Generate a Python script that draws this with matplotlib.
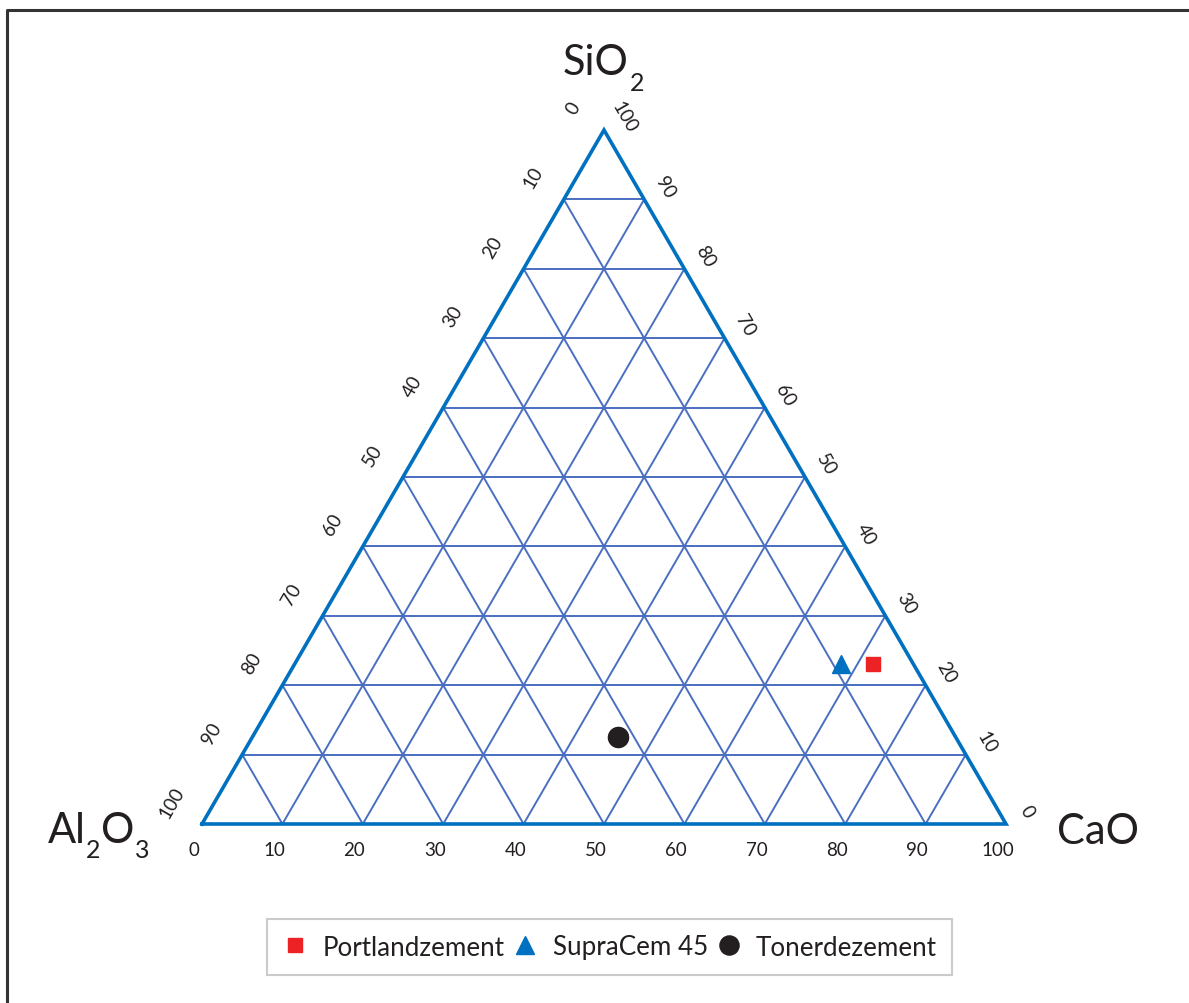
import matplotlib.pyplot as plt
from matplotlib.lines import Line2D
import numpy as np

plt.rcParams['font.family'] = ['Lato', 'DejaVu Sans']

# composition of the cements, in percent
samples = ["Portlandzement", "SupraCem 45", "Tonerdezement"]
sio2 = [23.0, 23.0, 12.5]
cao = [72.0, 68.0, 45.5]
al2o3 = [5.0, 9.0, 42.0]
ticks = [0, 10, 20, 30, 40, 50, 60, 70, 80, 90, 100]

markers = ["s", "^", "o"]
colors = ["#ED2224", "#0070C0", "#231F20"]
sizes = [10.5, 13.5, 14.5]

H = np.sqrt(3) / 2
INK = "#231F20"


def to_xy(s, c, a):
    """Ternary percentages -> cartesian, CaO to the right, SiO2 on top."""
    total = np.asarray(s) + np.asarray(c) + np.asarray(a)
    s = np.asarray(s) / total
    c = np.asarray(c) / total
    return c + s / 2, s * H


def formula(ax, parts, xy, offset, ha="left", size=30, drop=11):
    """Write a chemical formula piece by piece, digits as dropped subscripts."""
    renderer = fig.canvas.get_renderer()
    pieces, x = [], 0.0
    for p in parts:
        sub = p.isdigit()
        t = ax.annotate(p, xy, xytext=(offset[0] + x, offset[1] - (drop if sub else 0)),
                        textcoords="offset points", fontsize=size * 0.6 if sub else size,
                        color=INK, va="baseline", ha="left", annotation_clip=False)
        x += t.get_window_extent(renderer).width * 72 / fig.dpi + 0.5
        pieces.append(t)
    shift = {"left": 0, "center": -x / 2, "right": -x}[ha]
    for t in pieces:
        px, py = t.xyann
        t.xyann = (px + shift, py)
    return pieces


fig = plt.figure(figsize=(11.89, 10.04), dpi=100)
ax = fig.add_axes([202 / 1189, 1 - 825 / 1004, 804 / 1189, 694 / 1004])
ax.set_xlim(0, 1)
ax.set_ylim(0, H)
ax.axis("off")

# frame around the drawing
frame = fig.add_axes([0, 0, 1, 1], zorder=-1)
frame.set_xlim(0, 1)
frame.set_ylim(0, 1)
frame.axis("off")
frame.plot([7 / 1189, 7 / 1189, 1], [0, 1 - 11 / 1004, 1 - 11 / 1004], color="#333333", lw=2.2)

# grid lines every 10 %
grid_kw = dict(color="#4A6FC0", lw=1.4, zorder=1, solid_capstyle="butt")
for t in ticks[1:-1]:
    # constant SiO2
    x0, y0 = to_xy(t, 0, 100 - t)
    x1, y1 = to_xy(t, 100 - t, 0)
    ax.plot([x0, x1], [y0, y1], **grid_kw)
    # constant CaO
    x0, y0 = to_xy(0, t, 100 - t)
    x1, y1 = to_xy(100 - t, t, 0)
    ax.plot([x0, x1], [y0, y1], **grid_kw)
    # constant Al2O3
    x0, y0 = to_xy(0, 100 - t, t)
    x1, y1 = to_xy(100 - t, 0, t)
    ax.plot([x0, x1], [y0, y1], **grid_kw)

# outer triangle
ax.plot([0, 1, 0.5, 0], [0, 0, H, 0], color="#0070C0", lw=2.6, zorder=2,
        solid_joinstyle="miter", clip_on=False)

# tick labels
tick_kw = dict(fontsize=13.5, color=INK, textcoords="offset points",
               ha="center", va="center", annotation_clip=False)
for t in ticks:
    # CaO along the bottom
    ax.annotate(str(t), to_xy(0, t, 100 - t), xytext=(-6, -18), **tick_kw)
    # Al2O3 along the left side, 0 at the top
    ax.annotate(str(t), to_xy(100 - t, 0, t), xytext=(-22, 16), rotation=60, **tick_kw)
    # SiO2 along the right side, 0 at the bottom
    ax.annotate(str(t), to_xy(t, 100 - t, 0), xytext=(15, 9.5), rotation=-60, **tick_kw)

# corner titles
formula(ax, ["SiO", "2"], (0.5, H), (0, 40), ha="center")
formula(ax, ["Al", "2", "O", "3"], (0, 0), (-37, -13), ha="right")
formula(ax, ["CaO"], (1, 0), (37, -14), ha="left")

# samples
for name, s, c, a, m, col, ms in zip(samples, sio2, cao, al2o3, markers, colors, sizes):
    x, y = to_xy(s, c, a)
    ax.plot(x, y, linestyle="None", marker=m, color=col, markersize=ms, zorder=5, label=name)

handles = [Line2D([], [], linestyle="None", marker=m, color=col, markersize=ms * 0.95)
           for m, col, ms in zip(markers, colors, sizes)]
leg = fig.legend(handles, samples, loc="center", bbox_to_anchor=(609.5 / 1189, 1 - 948 / 1004),
                 ncol=3, fontsize=18.7, frameon=True, fancybox=False, edgecolor="#BFBFBF",
                 handlelength=1.0, handletextpad=0.55, columnspacing=0.3, borderpad=0.6,
                 borderaxespad=0)
leg.get_frame().set_linewidth(1.5)
for txt in leg.get_texts():
    txt.set_color(INK)

fig.savefig("out.png", dpi=100)
